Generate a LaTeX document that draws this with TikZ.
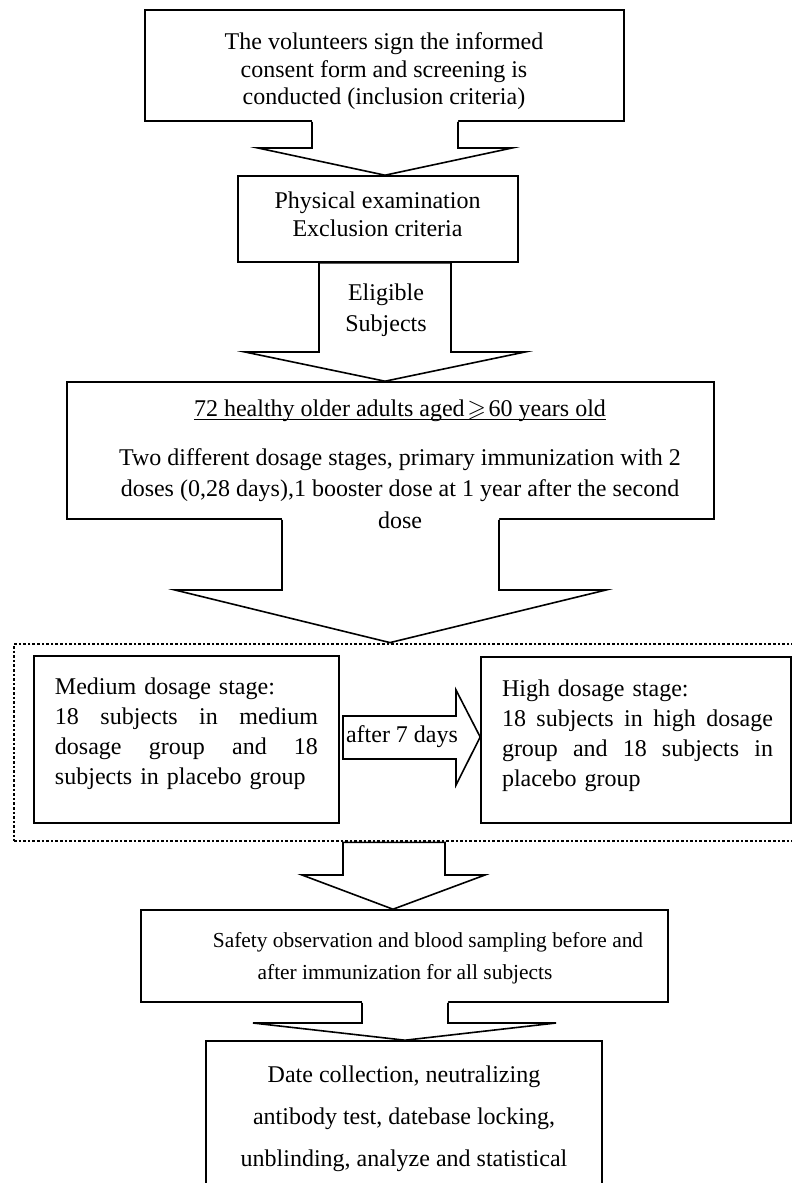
\documentclass[tikz,border=0pt]{standalone}
\usepackage{fontspec}
\setmainfont{Liberation Serif}
\usepackage{amssymb}
\usetikzlibrary{calc}
\newcommand{\openarr}[8]{%
 \fill[white] ($(#2,0 |- #1)+(0,3bp)$) -- (#2,#4) -- (#5,#4) -- (#7,0 |- #8) -- (#6,#4) -- (#3,#4) -- ($(#3,0 |- #1)+(0,3bp)$) -- cycle;
 \fill[white] ($(#2,0 |- #1)+(0,3bp)$) rectangle ($(#3,0 |- #1)+(0,-3bp)$);
 \draw[ln] (#2,0 |- #1) -- (#2,#4) -- (#5,#4) -- (#7,0 |- #8) -- (#6,#4) -- (#3,#4) -- (#3,0 |- #1);}
\newcommand{\jline}[2]{\leavevmode\hbox to #1{#2}}
\begin{document}
\begin{tikzpicture}[x=1bp,y=-1bp,
  ln/.style={line width=1.6bp},
  box/.style={draw, line width=1.6bp, inner sep=0pt},
  dotbox/.style={draw, line width=2.8bp, dash pattern=on 2.6bp off 2bp, inner sep=0pt},
  txt/.style={inner sep=0pt, align=center, font=\fontsize{24bp}{27.5bp}\selectfont}]
\useasboundingbox (0,0) rectangle (792,1183);
\fill[white] (0,0) rectangle (792,1183);
\clip (0,0) rectangle (792,1183);
% boxes
\node[box, minimum width=479bp, minimum height=111bp] (b1) at (384.5,65.5) {};
\node[box, minimum width=280bp, minimum height=86bp] (b2) at (378,219) {};
\node[box, minimum width=647bp, minimum height=137bp] (b3) at (390.5,450.5) {};
\node[dotbox, minimum width=786bp, minimum height=197bp] (grp) at (407,742.5) {};
\node[box, minimum width=305bp, minimum height=167bp] (b4) at (186.5,739.5) {};
\node[box, minimum width=310bp, minimum height=166bp] (b5) at (636,740) {};
\node[box, minimum width=527bp, minimum height=92bp] (b6) at (404.5,956) {};
\node[box, minimum width=396bp, minimum height=189bp] (b7) at (404,1135.5) {};
% block arrows
\openarr{b1.south}{312}{458}{148}{258}{512}{385}{b2.north}
\filldraw[ln, fill=white] (319,0 |- b2.south) -- (319,352) -- (245,352) -- (385,0 |- b3.north) -- (525,352) -- (451,352) -- (451,0 |- b2.south) -- cycle;
\openarr{b3.south}{282}{499}{590}{175}{606}{390}{grp.north}
\filldraw[ln, fill=white] (343,0 |- grp.south) -- (343,875) -- (302,875) -- (393,0 |- b6.north) -- (485,875) -- (445,875) -- (445,0 |- grp.south) -- cycle;
\openarr{b6.south}{362}{448}{1023}{253}{556}{405}{b7.north}
\filldraw[ln, fill=white] (343,716) -- (456,716) -- (456,690) -- (b5.west |- 0,737) -- (456,785) -- (456,759) -- (343,759) -- cycle;
% texts
\node[txt] (t1) at (384,71.5) {The volunteers sign the informed\\consent form and screening is\\conducted (inclusion criteria)};
\node[txt, font=\fontsize{24bp}{28bp}\selectfont] (t2) at (377.5,214) {Physical examination\\Exclusion criteria};
\node[txt, font=\fontsize{24bp}{31bp}\selectfont] (t3) at (386,310.5) {Eligible\\Subjects};
\node[txt] (t4) at (400,411) {72 healthy older adults aged\makebox[24bp]{$\geqslant$}60 years old};
\draw[line width=1.2bp] ($(t4.base west)+(0,-3bp)$) -- ($(t4.base east)+(0,-3bp)$);
\node[txt, font=\fontsize{24bp}{31.5bp}\selectfont] (t5) at (400,488.5) {Two different dosage stages, primary immunization with 2\\doses (0,28 days),1 booster dose at 1 year after the second\\dose};
\node[txt, align=left, text width=263bp, font=\fontsize{24bp}{30bp}\selectfont] (t6) at (186.5,733.5) {Medium dosage stage:\\\jline{263bp}{18\hfill subjects\hfill in\hfill medium}\\\jline{263bp}{dosage\hfill group\hfill and\hfill 18}\\subjects in placebo group};
\node[txt, align=left, text width=271bp, font=\fontsize{24bp}{30bp}\selectfont] (t7) at (637.5,736) {High dosage stage:\\\jline{271bp}{18\hfill subjects\hfill in\hfill high\hfill dosage}\\\jline{271bp}{group\hfill and\hfill 18\hfill subjects\hfill in}\\placebo group};
\node[txt] (t8) at (402,737) {after 7 days};
\node[txt, font=\fontsize{21.4bp}{32bp}\selectfont] (t9) at (405,958) {\hspace*{46bp}Safety observation and blood sampling before and\\after immunization for all subjects};
\node[txt, font=\fontsize{24bp}{42bp}\selectfont] (t10) at (404,1118.5) {Date collection, neutralizing\\antibody test, datebase locking,\\unblinding, analyze and statistical};
\end{tikzpicture}
\end{document}
